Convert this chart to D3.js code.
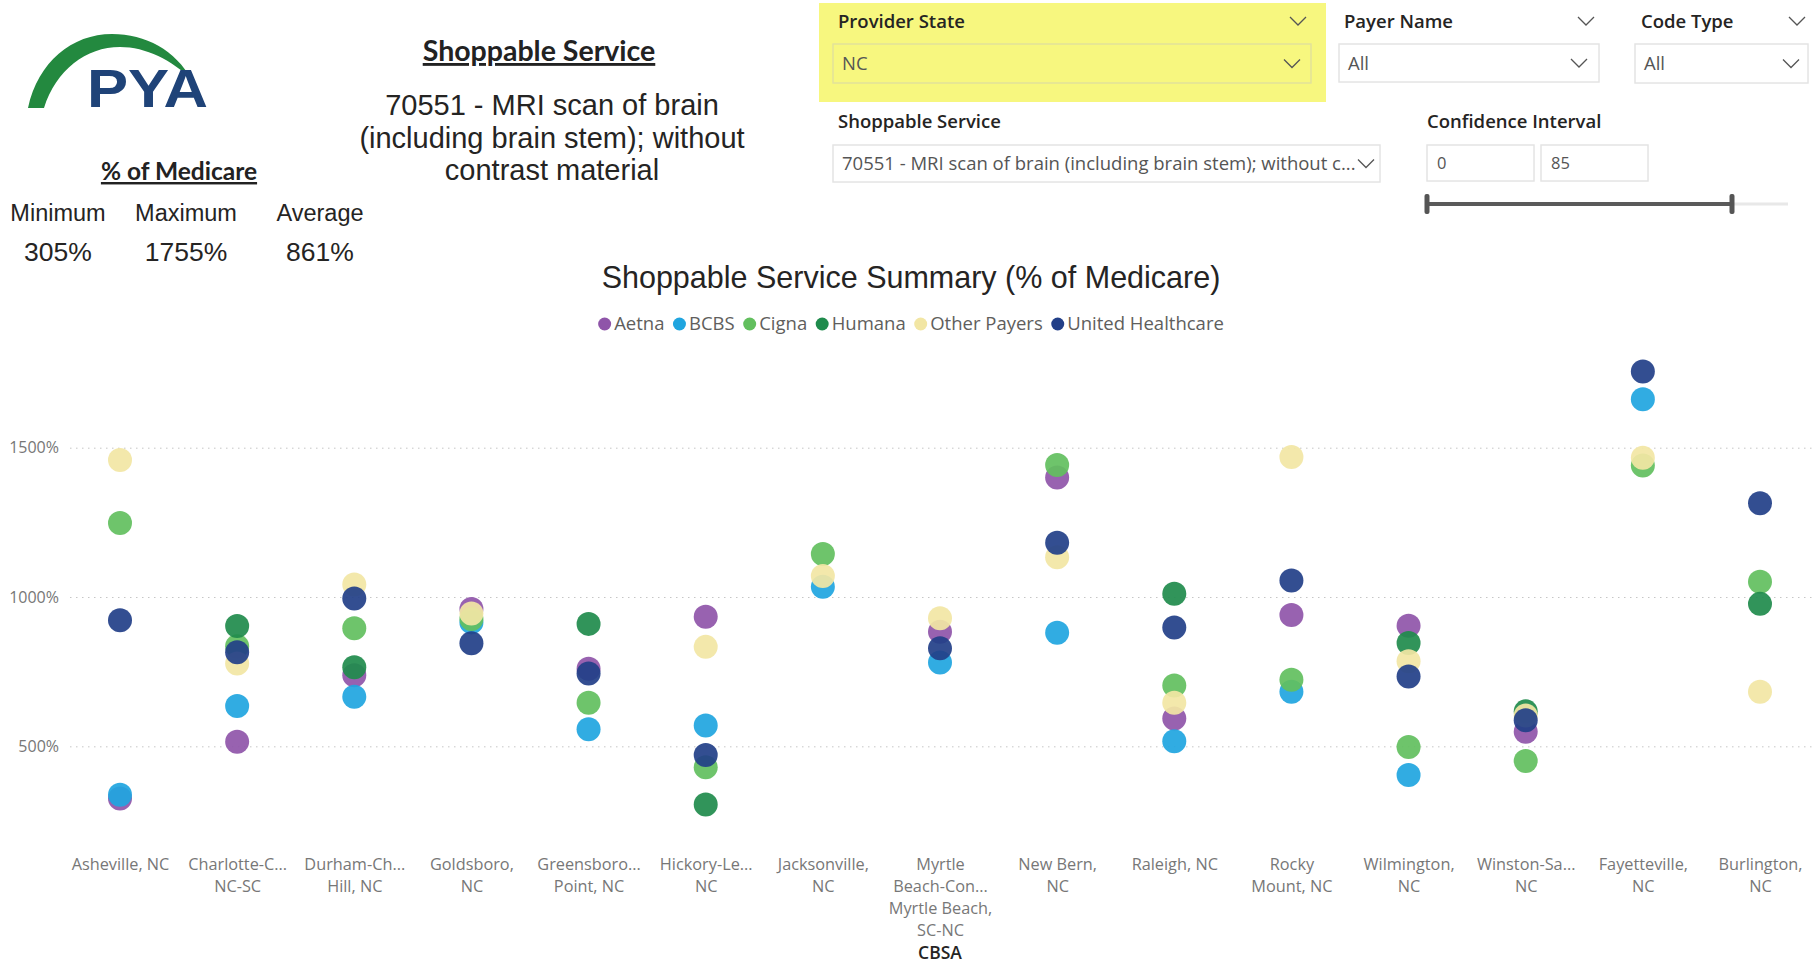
<!DOCTYPE html>
<html>
<head>
<meta charset="utf-8">
<script src="https://cdn.jsdelivr.net/npm/d3@7.9.0/dist/d3.min.js"></script>
<style>
  body { margin: 0; background: #fff; }
  svg { display: block; }
  .pbi { font-family: "Open Sans", "Noto Sans", sans-serif; }
  .arial { font-family: "Liberation Sans", Arial, sans-serif; }
  .calib { font-family: Lato, "Open Sans", sans-serif; }
</style>
</head>
<body>
<svg id="page" width="1814" height="964"></svg>
<script>
// chart data
const categories = ["Asheville", "Charlotte", "Durham", "Goldsboro", "Greensboro", "Hickory",
  "Jacksonville", "Myrtle Beach", "New Bern", "Raleigh", "Rocky Mount", "Wilmington",
  "Winston-Salem", "Fayetteville", "Burlington"];

const tickLabels = [
  ["Asheville, NC"],
  ["Charlotte-C...", "NC-SC"],
  ["Durham-Ch...", "Hill, NC"],
  ["Goldsboro,", "NC"],
  ["Greensboro...", "Point, NC"],
  ["Hickory-Le...", "NC"],
  ["Jacksonville,", "NC"],
  ["Myrtle", "Beach-Con...", "Myrtle Beach,", "SC-NC"],
  ["New Bern,", "NC"],
  ["Raleigh, NC"],
  ["Rocky", "Mount, NC"],
  ["Wilmington,", "NC"],
  ["Winston-Sa...", "NC"],
  ["Fayetteville,", "NC"],
  ["Burlington,", "NC"]
];

const payers = ["Aetna", "BCBS", "Cigna", "Humana", "Other Payers", "United Healthcare"];
const payerColors = ["#8f55a9", "#20a5df", "#62bf5e", "#1f8b4c", "#f2e6a4", "#223f88"];

const aetna  = [325, 515, 738, 960, 760, 934, null, 884, 1400, 593, 940, 904, 549, null, null];
const bcbs   = [338, 635, 666, 915, 557, 570, 1034, 781, 880, 517, 683, 404, null, 1662, null];
const cigna  = [1248, 835, 895, 926, 646, 430, 1144, null, 1442, 704, 723, 498, 451, 1440, 1051];
const humana = [null, 903, 765, null, 910, 305, null, null, null, 1011, null, 846, 617, null, 977];
const other  = [1459, 777, 1042, 945, null, 833, 1070, 929, 1133, 646, 1469, 785, 603, 1466, 683];
const uhc    = [922, 815, 995, 845, 744, 471, null, 828, 1182, 898, 1055, 734, 587, 1755, 1314];
const seriesValues = [aetna, bcbs, cigna, humana, other, uhc];

const yTicks = [500, 1000, 1500];

const statLabels = ["Minimum", "Maximum", "Average"];
const statValues = ["305%", "1755%", "861%"];

const serviceName = ["70551 - MRI scan of brain", "(including brain stem); without", "contrast material"];

const svg = d3.select("#page");

// ---- logo ----
const logo = svg.append("g");
logo.append("path")
  .attr("d", "M 28 108 C 38 62, 72 34, 112 34 C 146 34, 175 50, 192 80 C 172 60, 146 47, 120 47 C 86 47, 56 70, 44 108 Z")
  .attr("fill", "#23893f");
logo.append("text")
  .attr("x", 87).attr("y", 107)
  .attr("class", "arial")
  .attr("font-weight", "bold").attr("font-size", 53)
  .attr("textLength", 121).attr("lengthAdjust", "spacingAndGlyphs")
  .attr("fill", "#1f4378")
  .text("PYA");

// ---- headline texts ----
svg.append("text").attr("class", "calib")
  .attr("x", 539).attr("y", 61).attr("text-anchor", "middle")
  .attr("font-size", 28.5).attr("font-weight", "bold").attr("fill", "#222")
  .attr("text-decoration", "underline")
  .text("Shoppable Service");

svg.append("g").selectAll("text").data(serviceName).join("text")
  .attr("class", "arial")
  .attr("x", 552).attr("y", (d, i) => 115 + i * 32.5)
  .attr("text-anchor", "middle").attr("font-size", 29).attr("fill", "#252423")
  .text(d => d);

svg.append("text").attr("class", "calib")
  .attr("x", 179).attr("y", 180).attr("text-anchor", "middle")
  .attr("font-size", 24.5).attr("font-weight", "bold").attr("fill", "#222")
  .attr("text-decoration", "underline")
  .text("% of Medicare");

const statX = [58, 186, 320];
svg.append("g").selectAll("text").data(statLabels).join("text")
  .attr("class", "arial")
  .attr("x", (d, i) => statX[i]).attr("y", 221)
  .attr("text-anchor", "middle").attr("font-size", 23.5).attr("fill", "#252423")
  .text(d => d);
svg.append("g").selectAll("text").data(statValues).join("text")
  .attr("class", "arial")
  .attr("x", (d, i) => statX[i]).attr("y", 261)
  .attr("text-anchor", "middle").attr("font-size", 26.5).attr("fill", "#252423")
  .text(d => d);

// ---- slicers ----
function chevron(g, cx, cy) {
  g.append("path")
    .attr("d", `M ${cx - 8} ${cy - 4} L ${cx} ${cy + 4} L ${cx + 8} ${cy - 4}`)
    .attr("fill", "none").attr("stroke", "#555").attr("stroke-width", 1.3);
}
const sl = svg.append("g").attr("class", "pbi");
sl.append("rect").attr("x", 819).attr("y", 3).attr("width", 507).attr("height", 99).attr("fill", "#f7f77f");

const headers = [
  { t: "Provider State", x: 838, chev: 1298 },
  { t: "Payer Name", x: 1344, chev: 1586 },
  { t: "Code Type", x: 1641, chev: 1797 }
];
headers.forEach(h => {
  sl.append("text").attr("x", h.x).attr("y", 28).attr("font-size", 18.5).attr("font-weight", 600)
    .attr("fill", "#252423").text(h.t);
  chevron(sl, h.chev, 21);
});

const boxes = [
  { x: 833, w: 478, y: 44, h: 39, t: "NC", fill: "none", stroke: "#e2e29a", chev: 1292 },
  { x: 1339, w: 260, y: 44, h: 38, t: "All", fill: "#fff", stroke: "#e4e4e4", chev: 1579 },
  { x: 1635, w: 173, y: 44, h: 39, t: "All", fill: "#fff", stroke: "#e4e4e4", chev: 1791 },
  { x: 833, w: 547, y: 145, h: 37, t: "70551 - MRI scan of brain (including brain stem); without c...", fill: "#fff", stroke: "#e4e4e4", chev: 1366 }
];
boxes.forEach(b => {
  sl.append("rect").attr("x", b.x).attr("y", b.y).attr("width", b.w).attr("height", b.h)
    .attr("fill", b.fill).attr("stroke", b.stroke).attr("stroke-width", 1.5);
  sl.append("text").attr("x", b.x + 9).attr("y", b.y + b.h / 2 + 6.5).attr("font-size", 18.5)
    .attr("fill", "#555").text(b.t);
  chevron(sl, b.chev, b.y + b.h / 2);
});

sl.append("text").attr("x", 838).attr("y", 128).attr("font-size", 18.5).attr("font-weight", 600)
  .attr("fill", "#252423").text("Shoppable Service");
sl.append("text").attr("x", 1427).attr("y", 128).attr("font-size", 18.5).attr("font-weight", 600)
  .attr("fill", "#252423").text("Confidence Interval");

[{ x: 1427, t: "0" }, { x: 1541, t: "85" }].forEach(b => {
  sl.append("rect").attr("x", b.x).attr("y", 145).attr("width", 107).attr("height", 36)
    .attr("fill", "#fff").attr("stroke", "#e4e4e4").attr("stroke-width", 1.5);
  sl.append("text").attr("x", b.x + 10).attr("y", 169).attr("font-size", 16.5).attr("fill", "#555").text(b.t);
});
sl.append("line").attr("x1", 1427).attr("x2", 1788).attr("y1", 204).attr("y2", 204)
  .attr("stroke", "#e8e8e8").attr("stroke-width", 3);
sl.append("line").attr("x1", 1427).attr("x2", 1732).attr("y1", 204).attr("y2", 204)
  .attr("stroke", "#5a5a5a").attr("stroke-width", 4);
[1427, 1732].forEach(x => {
  sl.append("rect").attr("x", x - 2.5).attr("y", 194).attr("width", 5).attr("height", 20)
    .attr("rx", 2).attr("fill", "#555");
});

// ---- chart ----
svg.append("text").attr("class", "arial")
  .attr("x", 911).attr("y", 288).attr("text-anchor", "middle")
  .attr("font-size", 30.5).attr("fill", "#252423")
  .text("Shoppable Service Summary (% of Medicare)");

// legend
const legend = svg.append("g").attr("class", "pbi");
const legendItems = legend.selectAll("g").data(payers).join("g");
legendItems.append("circle").attr("r", 6.5).attr("cy", 0).attr("fill", (d, i) => payerColors[i]);
legendItems.append("text").attr("x", 9.5).attr("dy", "0.35em").attr("font-size", 18.5)
  .attr("fill", "#605e5c").text(d => d);
let lx = 0;
const offs = [];
legendItems.each(function () {
  offs.push(lx);
  lx += 9.5 + this.querySelector("text").getComputedTextLength() + 15;
});
const legendStart = 911 - (lx - 15 + 6.5) / 2 + 6.5;
legendItems.attr("transform", (d, i) => `translate(${legendStart + offs[i]},324)`);

const x = d3.scalePoint().domain(categories).range([120, 1760]);
const y = d3.scaleLinear().domain([200, 1800]).range([835.9, 358.1]);

const yAxis = svg.append("g").attr("class", "pbi")
  .attr("transform", "translate(70,0)")
  .call(d3.axisLeft(y).tickValues(yTicks).tickSize(-1744).tickPadding(11).tickFormat(d => d + "%"));
yAxis.select(".domain").remove();
yAxis.selectAll(".tick line").attr("stroke", "#c6c6c6").attr("stroke-dasharray", "1.5,4.5");
yAxis.selectAll(".tick text").attr("font-size", 16).attr("fill", "#777");

const xAxis = svg.append("g").attr("class", "pbi")
  .attr("transform", "translate(0,850)")
  .call(d3.axisBottom(x).tickSize(0).tickPadding(0));
xAxis.select(".domain").remove();
xAxis.selectAll(".tick text").each(function (d, i) {
  const t = d3.select(this).text(null).attr("font-size", 16.3).attr("fill", "#777").attr("y", 19.5);
  tickLabels[i].forEach((line, j) => {
    t.append("tspan").attr("x", 0).attr("dy", j === 0 ? 0 : 22.3).text(line);
  });
});

svg.append("text").attr("class", "pbi")
  .attr("x", x(categories[7])).attr("y", 959).attr("text-anchor", "middle")
  .attr("font-size", 17.5).attr("font-weight", 600).attr("fill", "#252423")
  .text("CBSA");

const points = [];
seriesValues.forEach((vals, s) => {
  vals.forEach((v, i) => {
    if (v !== null) points.push({ s, cat: categories[i], v });
  });
});
svg.append("g").selectAll("circle").data(points).join("circle")
  .attr("cx", d => x(d.cat))
  .attr("cy", d => y(d.v))
  .attr("r", 12)
  .attr("fill", d => payerColors[d.s])
  .attr("fill-opacity", 0.92);
</script>
</body>
</html>
